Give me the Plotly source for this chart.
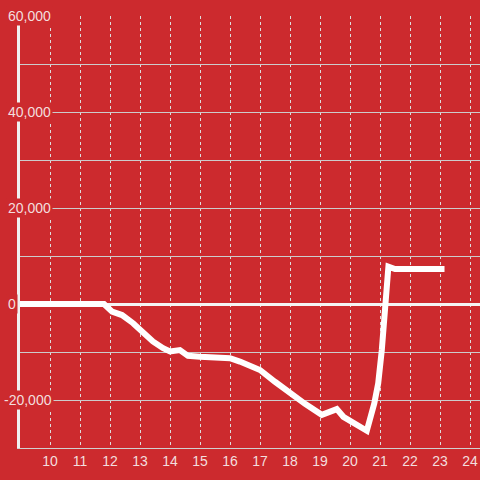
import plotly.graph_objects as go

# Series (hour of day vs. value)
hours = [9, 11.8, 12.07, 12.4, 12.77, 13.1, 13.43, 13.77, 14.0, 14.33, 14.6, 15.0,
         15.56, 16.0, 16.33, 17.0, 17.5, 18.0, 18.5, 19.06, 19.56, 19.78, 20.56,
         20.81, 20.94, 21.06, 21.14, 21.23, 21.28, 21.5, 22.0, 22.5, 23.15]
values = [0, 0, -1600, -2300, -4000, -6000, -7800, -9200, -9900, -9600, -10800, -11000,
          -11100, -11300, -12000, -13750, -16200, -18600, -20800, -23100, -21900, -23500, -26400,
          -20700, -16500, -9600, -2600, 4300, 7800, 7300, 7300, 7300, 7300]

y_ticks = [60000, 40000, 20000, 0, -20000]
y_tick_labels = ["60,000", "40,000", "20,000", "0", "-20,000"]

BG = "#cc2a2e"
LABEL = "#f3dede"

fig = go.Figure()
fig.add_trace(go.Scatter(
    x=hours, y=values, mode="lines",
    line=dict(color="white", width=6),
    hoverinfo="skip", showlegend=False
))

# y tick labels as annotations with a background, so they cut the axis/gridlines
for v, t in zip(y_ticks, y_tick_labels):
    left_px = 2 if t.startswith("-") else 6
    fig.add_annotation(
        x=(left_px - 20) / 460, xref="paper", y=v, yref="y",
        text=t, showarrow=False, xanchor="left", yanchor="middle",
        bgcolor=BG, borderpad=1,
        font=dict(family="Liberation Sans, Arial", size=14, color=LABEL)
    )

fig.update_layout(
    width=480, height=480,
    margin=dict(l=20, r=0, t=16, b=32, autoexpand=False),
    paper_bgcolor=BG, plot_bgcolor=BG,
    font=dict(family="Liberation Sans, Arial", size=14, color=LABEL),
)
fig.update_xaxes(
    range=[9, 24.333], dtick=1, tick0=9,
    showgrid=True, gridcolor="#dddddd", gridwidth=1, griddash="dot",
    zeroline=False, showline=True, linecolor="#d0d0d0", linewidth=1,
    ticks="", tickfont=dict(size=14, color=LABEL),
    tickvals=list(range(10, 25)),
)
fig.update_yaxes(
    range=[-30000, 60000], dtick=10000,
    showgrid=True, gridcolor="#cccccc", gridwidth=1,
    zeroline=True, zerolinecolor="#f4f4f4", zerolinewidth=3,
    showline=True, linecolor="#f0f0f0", linewidth=3,
    showticklabels=False, ticks="",
)

fig.write_html("out.html", config={"displayModeBar": False},
               post_script="document.body.style.margin='0';")
